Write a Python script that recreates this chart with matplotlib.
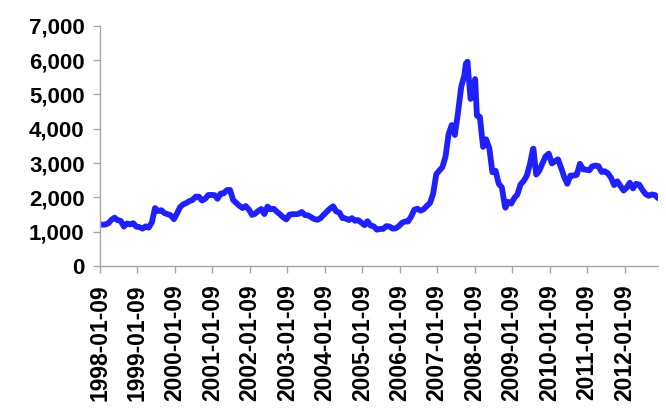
import numpy as np
import pandas as pd
import matplotlib
matplotlib.use('Agg')
import matplotlib.pyplot as plt
import matplotlib.dates as mdates
from matplotlib.ticker import FuncFormatter

# monthly closes (approx.), Jan 1998 .. Nov 2012
values = [
    1206, 1208, 1243, 1343, 1411, 1339, 1315, 1150, 1242, 1217, 1248, 1147,  # 1998
    1134, 1090, 1158, 1120, 1279, 1690, 1602, 1627, 1542, 1512, 1478, 1367,  # 1999
    1535, 1714, 1800, 1836, 1894, 1928, 2023, 2021, 1910, 1961, 2070, 2073,  # 2000
    2066, 1960, 2112, 2119, 2214, 2218, 1920, 1834, 1753, 1690, 1748, 1646,  # 2001
    1491, 1524, 1603, 1663, 1516, 1733, 1652, 1668, 1581, 1507, 1421, 1358,  # 2002
    1499, 1511, 1511, 1521, 1576, 1487, 1477, 1421, 1367, 1348, 1397, 1497,  # 2003
    1590, 1675, 1742, 1595, 1555, 1399, 1386, 1342, 1396, 1320, 1340, 1266,  # 2004
    1191, 1306, 1181, 1159, 1060, 1080, 1083, 1162, 1155, 1092, 1099, 1161,  # 2005
    1258, 1299, 1298, 1440, 1641, 1672, 1612, 1658, 1752, 1837, 2099, 2675,  # 2006
    2786, 2881, 3183, 3841, 4109, 3820, 4471, 5218, 5552, 5954, 4871, 5262,  # 2007
    4383, 4348, 3473, 3693, 3433, 2736, 2776, 2397, 2293, 1729, 1871, 1821,  # 2008
    1991, 2082, 2374, 2477, 2633, 2959, 3412, 2668, 2779, 2996, 3195, 3277,  # 2009
    2989, 3051, 3110, 2871, 2592, 2398, 2638, 2638, 2656, 2979, 2820, 2808,  # 2010
    2791, 2905, 2928, 2911, 2743, 2762, 2701, 2568, 2359, 2469, 2333, 2199,  # 2011
    2292, 2428, 2262, 2396, 2373, 2225, 2103, 2047, 2086, 2069, 1980,        # 2012
]
month_ends = pd.date_range('1998-01-31', periods=len(values), freq='ME')

# a few extra weekly points (start, peaks and troughs)
extra_dates = ['1998-01-09', '2007-10-16', '2008-01-14', '2008-11-04', '2009-08-04']
extra_values = [1220, 5900, 5450, 1700, 3420]

s = pd.Series(values, index=month_ends)
s = pd.concat([s, pd.Series(extra_values, index=pd.to_datetime(extra_dates))]).sort_index()

tick_dates = pd.to_datetime(['%d-01-09' % y for y in range(1998, 2013)])

fig = plt.figure(figsize=(6.66, 4.17), dpi=100)
ax = fig.add_axes([0.150, 0.362, 0.838, 0.576])

ax.plot(s.index, s.values, color='#2020ff', linewidth=4.2,
        solid_joinstyle='round', solid_capstyle='round')

ax.set_xlim(pd.Timestamp('1998-01-09'), s.index[-1])
ax.set_ylim(0, 7000)
ax.set_yticks(np.arange(0, 7001, 1000))
ax.yaxis.set_major_formatter(FuncFormatter(lambda v, p: '{:,.0f}'.format(v)))
ax.set_xticks(tick_dates)
ax.xaxis.set_major_formatter(mdates.DateFormatter('%Y-%m-%d'))

for side in ['top', 'right']:
    ax.spines[side].set_visible(False)
for side in ['left', 'bottom']:
    ax.spines[side].set_color('#a6a6a6')
    ax.spines[side].set_linewidth(1.0)

ax.tick_params(axis='both', colors='#a6a6a6', length=5, width=1.0)
for lab in ax.get_yticklabels():
    lab.set_fontfamily('Liberation Sans')
    lab.set_fontweight('bold')
    lab.set_fontsize(16)
    lab.set_color('black')
for lab in ax.get_xticklabels():
    lab.set_fontfamily('Liberation Sans')
    lab.set_fontweight('bold')
    lab.set_fontsize(16.5)
    lab.set_color('black')
    lab.set_rotation(90)
ax.tick_params(axis='y', pad=6)
ax.tick_params(axis='x', pad=8)

fig.savefig('out.png', dpi=100)
